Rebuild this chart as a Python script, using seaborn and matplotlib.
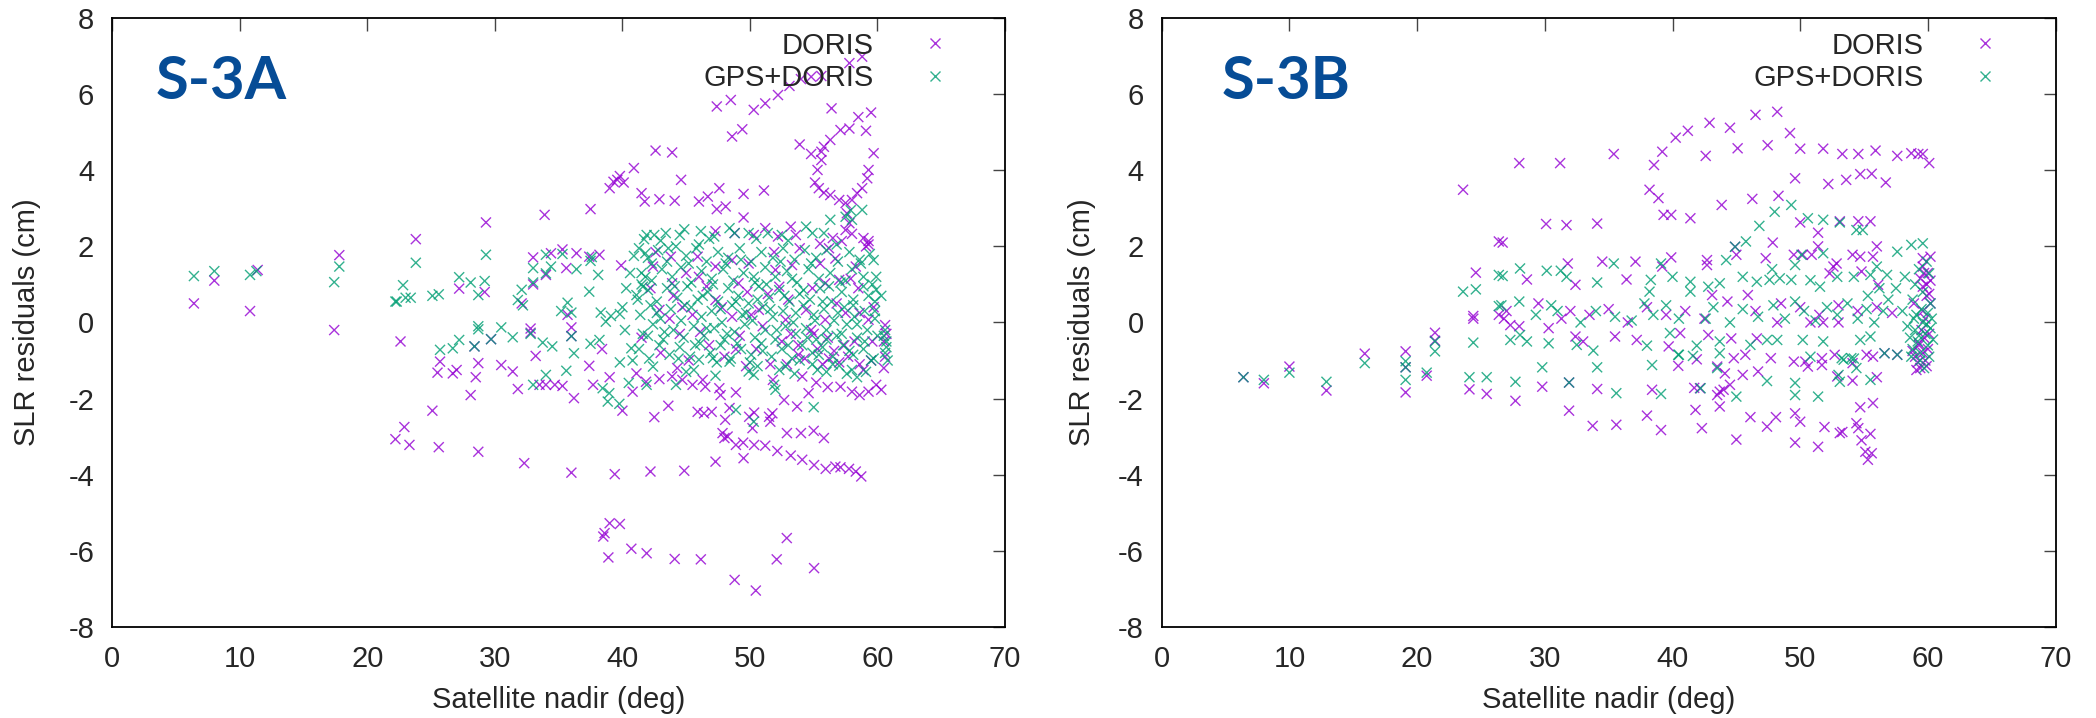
import matplotlib
matplotlib.use("Agg")
import matplotlib.pyplot as plt
from matplotlib.lines import Line2D
import pandas as pd
import seaborn as sns

# ---------------- S-3A : DORIS-only solution ----------------
s3a_doris = [
    (6.4, 0.5), (8.0, 1.1), (10.8, 0.3), (11.4, 1.38), (17.8, 1.77), (17.4, -0.2),
    (22.2, -3.07), (22.6, -0.5), (22.9, -2.75), (23.3, -3.22), (23.8, 2.19), (25.1, -2.32),
    (25.6, -3.28), (25.7, -1.03), (25.5, -1.32), (26.7, -1.34), (27.0, -1.25), (27.2, 0.89),
    (28.4, -0.63), (28.7, -1.07), (28.5, -1.44), (28.1, -1.91), (28.7, -3.4), (29.2, 0.8),
    (29.3, 2.63), (29.7, -0.44), (30.5, -1.12), (31.4, -1.29), (31.8, -1.75), (32.1, 0.5),
    (32.3, -3.7), (32.8, -0.16), (32.8, -0.27), (33.0, 1.0), (33.0, 1.71), (33.2, -0.88),
    (33.5, -1.64), (33.9, 2.83), (34.0, -1.64), (34.0, 1.25), (34.4, 1.82), (34.7, -1.64),
    (35.3, 1.92), (35.3, -1.67), (35.6, 1.43), (35.7, 0.2), (36.0, -0.13), (36.0, -0.36),
    (36.2, -1.99), (36.0, -3.95), (36.4, 1.82), (37.4, 1.73), (37.4, -1.14), (37.5, 2.98),
    (37.7, -1.64), (38.2, 1.78), (38.4, -0.7), (39.0, -1.44), (38.6, -5.54), (39.0, -5.28),
    (39.8, -5.3), (38.5, -5.63), (38.9, -6.18), (39.0, 3.53), (39.3, 3.7), (39.6, 3.75),
    (39.8, 3.85), (40.1, 3.68), (40.9, 4.06), (39.4, -3.99), (39.9, 1.5), (40.0, -2.32),
    (40.7, -5.95), (40.8, -1.82), (41.1, -1.34), (41.5, 3.4), (41.75, 3.18), (41.9, -6.07),
    (42.2, -3.92), (42.5, -2.49), (42.6, 4.52), (42.9, 3.24), (43.6, -2.19), (43.9, 4.47),
    (44.1, 3.2), (44.1, -6.22), (44.6, 3.75), (44.85, -3.9), (45.9, -2.35), (46.4, -2.39),
    (47.0, -2.35), (46.0, 3.18), (46.15, -6.23), (46.7, 3.31), (47.3, -3.66), (47.4, 5.68),
    (47.4, 2.98), (47.6, 3.53), (47.6, -1.73), (47.7, -1.91), (47.85, -2.91), (48.0, -3.04),
    (48.25, -3.0), (48.06, -2.56), (48.4, -2.25), (48.9, -1.84), (48.1, 3.05), (48.5, 5.85),
    (48.6, 4.89), (48.8, -6.77), (48.9, -3.22), (49.4, 5.08), (49.47, -3.16), (49.5, -3.57),
    (49.5, 3.38), (49.5, 2.76), (49.94, -2.48), (50.2, -2.78), (50.3, 5.59), (50.33, -2.37),
    (50.33, -3.22), (50.46, -7.05), (51.1, 3.47), (51.2, 5.76), (51.2, -3.24), (51.5, -2.48),
    (51.6, -2.61), (51.76, -2.39), (52.1, -6.23), (52.15, -3.38), (52.2, 5.98), (52.68, -2.04),
    (52.89, -5.67), (52.9, -2.91), (53.1, 6.22), (53.2, -3.5), (53.7, -2.21), (53.9, 4.68),
    (54.0, 6.4), (54.0, -2.91), (54.1, -3.61), (54.6, -1.86), (54.8, 6.46), (54.8, 4.43),
    (55.0, -2.85), (55.03, -3.75), (55.03, -6.46), (55.1, 3.68), (55.3, 4.01), (55.4, 3.53),
    (55.6, 6.48), (55.6, 4.49), (55.6, 4.27), (55.8, 4.62), (55.8, 3.41), (55.8, -3.04),
    (55.94, -3.85), (56.3, 4.8), (56.3, 3.35), (56.4, 5.63), (56.7, -3.79), (57.0, 3.22),
    (57.1, 5.06), (57.1, -3.81), (57.5, 3.14), (57.77, -3.85), (57.8, 5.1), (57.8, 6.82),
    (58.0, 3.22), (58.3, -3.92), (58.4, 3.4), (58.5, 5.4), (58.73, -4.05), (58.8, 3.53),
    (58.8, 6.99), (59.1, 5.04), (59.2, 3.79), (59.3, 4.01), (59.5, 5.52), (59.7, 4.45),
    (57.6, 2.87), (57.8, 2.61), (57.5, 2.43),
    (41.85, -1.56), (42.9, -1.49), (43.9, -1.42), (44.7, -1.51), (45.5, -1.64), (46.3, -1.51),
    (46.5, -1.69), (51.8, -1.51), (54.1, -1.42), (55.2, -1.58), (56.1, -1.7), (57.1, -1.69),
    (58.0, -1.82), (58.6, -1.91), (59.3, -1.82), (59.9, -1.64), (60.3, -1.77),
    (47.3, 2.4), (48.8, 2.35), (50.3, 2.3), (51.2, 2.48), (52.2, 2.26), (53.2, 2.52),
    (53.6, 2.3), (55.5, 2.07), (56.5, 2.22), (57.2, 2.14), (58.9, 2.22), (59.3, 2.14),
    (58.0, 2.33), (42.4, 1.47), (43.8, 1.73), (45.9, 1.73), (47.3, 1.47), (48.6, 1.64),
    (49.9, 1.55), (52.0, 1.38), (53.3, 1.51), (55.5, 1.55), (56.7, 1.68), (58.3, 1.47),
    (59.1, 2.0), (59.3, 2.05), (55.9, 1.03), (57.0, 1.12), (52.3, 0.94), (49.1, 1.03),
    (46.0, 1.2), (43.9, 1.03), (42.9, 0.33), (44.7, 0.4), (47.3, 0.59), (48.6, 0.15),
    (50.7, 0.33), (52.8, 0.07), (54.4, 0.33), (55.9, 0.07), (57.5, 0.25), (59.3, 0.07),
    (60.6, -0.07), (41.5, -0.4), (43.0, -0.8), (44.5, -0.3), (45.2, -1.0), (46.8, -0.6),
    (48.0, -0.9), (49.2, -0.35), (50.5, -0.7), (51.6, -1.1), (52.5, -0.5), (53.8, -0.85),
    (55.0, -0.3), (56.2, -0.95), (57.4, -0.6), (58.6, -1.1), (59.6, -0.5), (60.5, -0.5),
    (60.6, -0.9), (60.5, -1.2), (60.7, -0.3), (42.2, 0.9), (44.0, 0.7), (45.5, 0.2),
    (49.8, 0.8), (51.0, -0.1), (53.0, 0.6), (54.9, 0.9), (56.8, 0.5), (58.5, 0.9), (59.7, 0.4),
    (53.2, -0.3), (53.8, -0.6), (54.3, -0.95), (54.8, -0.2), (55.3, -0.7), (55.7, -1.1),
    (56.1, -0.4), (56.6, -0.75), (57.0, -1.05), (57.7, -0.9), (58.2, -0.5), (58.9, -1.25),
    (59.5, -1.0), (43.7, 0.1), (45.0, 1.3), (46.6, 0.95), (47.8, 0.4), (48.9, -0.7),
    (50.1, 0.2), (51.4, 0.75), (51.9, 1.85), (53.9, 1.95), (56.2, 1.95), (57.9, 1.15),
    (58.6, 0.25), (42.6, 1.85), (44.3, -1.2), (46.1, -0.25), (49.7, -1.15), (52.9, -1.1),
]

# ---------------- S-3A : GPS+DORIS solution ----------------
s3a_gps = [
    (6.4, 1.22), (8.0, 1.35), (10.8, 1.25), (11.3, 1.35), (17.8, 1.47), (17.4, 1.06),
    (22.2, 0.55), (22.8, 0.98), (22.3, 0.55), (23.0, 0.65), (23.4, 0.65), (23.8, 1.57),
    (25.1, 0.7), (25.6, 0.74), (25.7, -0.72), (26.7, -0.68), (27.2, -0.46), (27.2, 1.19),
    (28.1, 1.05), (28.4, -0.63), (28.7, 0.72), (28.7, -0.1), (28.7, -0.18), (29.2, 1.09),
    (29.3, 1.78), (29.7, -0.44), (30.5, -0.13), (31.4, -0.39), (31.8, 0.59), (32.1, 0.86),
    (32.2, 0.45), (32.8, -0.3), (33.0, 1.05), (33.0, 1.43), (33.0, -1.64), (33.75, -0.53),
    (34.0, 1.78), (34.0, 1.29), (34.0, -1.38), (34.4, 1.47), (34.5, -0.63), (35.2, 0.3),
    (35.3, 1.8), (35.6, -1.27), (35.7, 0.52), (36.0, 0.26), (36.0, -0.36), (36.2, -0.81),
    (36.4, 1.4), (37.4, 0.81), (37.5, 1.62), (37.6, 1.72), (37.5, -0.56), (38.1, 1.25),
    (38.2, -0.46), (38.3, 0.26), (38.45, -1.73), (38.7, 0.02), (38.85, -2.08), (38.97, -1.86),
    (39.1, 0.17), (39.76, -2.14), (39.8, -1.05), (39.8, 0.22), (40.0, 0.4), (40.5, -1.59),
    (40.7, -0.68), (41.1, 0.72), (41.6, 0.94), (41.8, 1.2), (41.8, 1.82),
    (41.7, 2.19), (42.5, 2.3), (43.4, 2.35), (44.85, 2.45), (46.15, 2.4), (47.2, 2.26),
    (48.4, 2.48), (48.8, 2.35), (49.9, 2.35), (51.4, 2.35), (52.5, 2.3), (54.4, 2.52),
    (54.9, 2.35), (56.3, 2.7), (57.5, 2.78), (58.0, 2.7), (58.8, 2.96), (57.9, 2.95),
    (59.7, 1.64), (59.9, 1.2), (59.9, 0.86),
    (41.3, 1.95), (42.0, 1.7), (42.8, 1.9), (43.5, 1.6), (44.2, 2.0), (45.0, 1.75),
    (45.8, 1.95), (46.6, 1.6), (47.5, 1.85), (48.3, 1.7), (49.2, 1.95), (50.1, 1.6),
    (50.9, 1.85), (51.8, 1.7), (52.6, 1.95), (53.5, 1.65), (54.3, 1.9), (55.2, 1.7),
    (56.0, 1.9), (56.9, 1.6), (57.8, 1.85), (58.6, 1.65), (59.4, 1.8),
    (41.5, 1.3), (42.3, 1.1), (43.1, 1.4), (43.9, 1.2), (44.6, 1.45), (45.4, 1.05),
    (46.2, 1.35), (47.0, 1.15), (47.9, 1.4), (48.7, 1.1), (49.5, 1.3), (50.4, 1.05),
    (51.2, 1.45), (52.0, 1.2), (52.9, 1.35), (53.7, 1.05), (54.6, 1.4), (55.4, 1.15),
    (56.3, 1.3), (57.1, 1.05), (58.0, 1.4), (58.9, 1.2), (59.6, 1.0),
    (41.2, 0.6), (42.0, 0.85), (42.7, 0.55), (43.5, 0.9), (44.3, 0.65), (45.1, 0.95),
    (45.9, 0.6), (46.7, 0.8), (47.5, 0.55), (48.3, 0.9), (49.1, 0.7), (49.9, 0.5),
    (50.7, 0.95), (51.5, 0.65), (52.3, 0.85), (53.1, 0.55), (53.9, 0.75), (54.7, 0.6),
    (55.5, 0.9), (56.4, 0.55), (57.2, 0.8), (58.1, 0.6), (58.9, 0.95), (59.8, 0.55), (60.3, 0.7),
    (41.4, 0.2), (42.2, 0.45), (43.0, 0.1), (43.8, 0.35), (44.6, 0.05), (45.4, 0.4),
    (46.2, 0.15), (47.0, 0.3), (47.8, 0.0), (48.6, 0.45), (49.4, 0.2), (50.2, 0.05),
    (51.0, 0.4), (51.8, 0.15), (52.6, 0.3), (53.4, 0.0), (54.2, 0.45), (55.0, 0.2),
    (55.8, 0.35), (56.6, 0.05), (57.4, 0.4), (58.2, 0.15), (59.0, 0.3), (59.8, 0.1),
    (41.6, -0.3), (42.4, -0.05), (43.2, -0.45), (44.0, -0.2), (44.8, -0.4), (45.6, -0.1),
    (46.4, -0.35), (47.2, -0.15), (48.0, -0.45), (48.8, -0.25), (49.6, -0.05), (50.4, -0.4),
    (51.2, -0.2), (52.0, -0.45), (52.8, -0.1), (53.6, -0.3), (54.4, -0.15), (55.2, -0.45),
    (56.0, -0.2), (56.8, -0.35), (57.6, -0.05), (58.4, -0.4), (59.2, -0.2), (60.0, -0.35),
    (41.3, -0.7), (42.1, -0.95), (42.9, -0.6), (43.7, -0.85), (44.5, -0.65), (45.3, -0.9),
    (46.1, -0.55), (46.9, -0.8), (47.7, -0.6), (48.5, -0.95), (49.3, -0.7), (50.1, -0.85),
    (50.9, -0.55), (51.7, -0.9), (52.5, -0.7), (53.3, -0.95), (54.1, -0.6), (54.9, -0.8),
    (55.7, -0.65), (56.5, -0.9), (57.3, -0.6), (58.1, -0.85), (58.9, -0.7), (59.7, -0.95),
    (42.4, -1.16), (41.9, -1.64), (44.2, -1.64), (46.0, -0.98), (47.1, -0.94), (48.4, -1.03),
    (49.9, -1.29), (50.3, -1.38), (52.8, -1.16), (51.9, -1.64), (52.0, -1.77), (54.9, -1.1),
    (57.0, -1.14), (58.0, -1.25), (58.4, -1.44), (48.9, -2.3), (50.3, -2.61), (55.0, -2.23),
    (45.0, -1.3), (53.5, -1.35), (56.0, -1.3),
    (60.6, -0.2), (60.7, -0.5), (60.6, -0.8), (60.8, -1.0), (60.5, -0.35), (60.7, -0.65),
    (42.3, 1.55), (42.7, 0.25), (43.3, -0.25), (43.6, 1.95), (44.1, 0.95), (44.4, -0.95),
    (44.9, 0.45), (45.2, 1.55), (45.7, -0.6), (46.0, 2.05), (46.3, 0.7), (46.6, -0.15),
    (47.1, 1.0), (47.4, -1.05), (47.7, 0.35), (48.1, 1.55), (48.2, -0.3), (48.9, 0.55),
    (49.0, -0.55), (49.3, 1.65), (49.7, 0.25), (50.0, -1.05), (50.3, 1.2), (50.6, 0.6),
    (51.0, -0.75), (51.3, 1.0), (51.6, 0.35), (52.1, -0.2), (52.4, 1.6), (52.7, 0.7),
    (53.0, -0.6), (53.3, 1.15), (53.6, 0.25), (53.9, -1.0), (54.2, 0.85), (54.5, -0.4),
    (54.8, 1.55), (55.1, 0.05), (55.4, -0.85), (55.7, 0.55), (56.0, -0.45), (56.2, 0.95),
    (56.5, -1.1), (56.9, 0.25), (57.2, -0.3), (57.5, 1.1), (57.8, -0.75), (58.1, 0.45),
    (58.4, -0.05), (58.7, 1.55), (59.0, -0.5), (59.3, 0.7), (59.5, -1.0), (59.8, 0.3),
    (42.0, -0.35), (41.5, 1.0), (41.9, 2.3), (43.0, 2.15), (44.5, 2.3), (46.8, 2.2),
    (50.5, 2.2), (53.0, 2.15), (55.8, 2.35), (56.8, 2.05), (45.6, -1.25), (47.3, -1.4),
    (50.6, -1.15), (52.3, -1.25), (55.3, -1.25), (57.6, -1.35), (59.1, -1.3), (40.6, 1.3),
    (40.3, 0.9), (40.9, 1.75), (40.2, -0.2), (40.8, -1.0),
]

# ---------------- S-3B : DORIS-only solution ----------------
s3b_doris = [
    (6.4, -1.44), (8.0, -1.6), (10.0, -1.16), (12.9, -1.79), (15.9, -0.82), (19.1, -0.76),
    (19.1, -1.18), (19.1, -1.84), (20.75, -1.4), (21.4, -0.27), (21.4, -0.48), (24.1, -1.76),
    (25.45, -1.88), (24.4, 0.1), (23.6, 3.49), (24.6, 1.31), (24.4, 0.17), (26.4, 2.13),
    (26.4, 0.2), (28.0, 4.19), (31.2, 4.19), (35.4, 4.43), (38.55, 4.14), (39.2, 4.49),
    (40.25, 4.86), (41.2, 5.04), (42.9, 5.25), (44.5, 5.12), (46.5, 5.46), (48.2, 5.54),
    (49.2, 4.98), (42.6, 4.38), (45.1, 4.58), (47.45, 4.66), (50.0, 4.57), (51.8, 4.57),
    (53.3, 4.43), (54.55, 4.43), (55.9, 4.52), (57.6, 4.38), (58.7, 4.45), (59.6, 4.43),
    (60.1, 4.19), (59.25, 4.43), (49.6, 3.79), (52.2, 3.64), (53.6, 3.75), (54.7, 3.9),
    (55.6, 3.91), (56.7, 3.68), (38.2, 3.49), (38.9, 3.27), (39.3, 2.83), (39.9, 2.83),
    (41.4, 2.74), (43.85, 3.09), (46.25, 3.25), (48.3, 3.33), (30.1, 2.59), (31.7, 2.56),
    (34.1, 2.6), (26.7, 2.1), (50.0, 2.63), (51.4, 2.36), (53.1, 2.66), (54.55, 2.66),
    (55.5, 2.66), (28.6, 1.13), (31.8, 1.55), (32.4, 0.99), (34.5, 1.6), (37.1, 1.6),
    (36.4, 1.13), (39.9, 1.71), (39.2, 1.47), (42.7, 1.64), (42.7, 1.51), (43.1, 0.72),
    (45.0, 1.78), (44.9, 1.99), (47.85, 2.1), (47.3, 1.69), (45.9, 0.72), (49.5, 1.78),
    (50.2, 1.78), (50.9, 1.78), (51.4, 2.0), (52.3, 1.29), (52.6, 1.47), (52.85, 1.55),
    (54.1, 1.78), (54.7, 1.73), (55.7, 1.73), (56.0, 2.0), (54.8, 1.34), (56.1, 0.99),
    (59.6, 1.69), (60.2, 1.73), (59.6, 1.47), (59.4, 1.16), (59.6, 0.94), (58.9, 0.5),
    (60.0, 1.3), (59.9, 1.0), (60.1, 0.75),
    (27.0, 0.3), (26.8, 0.1), (28.0, -0.1), (29.5, 0.5), (31.3, 0.1), (32.0, 0.3),
    (33.5, 0.2), (35.0, 0.35), (36.5, 0.0), (38.0, 0.4), (39.5, 0.2), (41.0, 0.3),
    (42.5, 0.1), (44.3, 0.55), (46.5, 0.3), (48.5, 0.5), (50.0, 0.4), (51.5, 0.2),
    (53.0, 0.45), (54.5, 0.3), (56.0, 0.4), (57.2, 0.25),
    (27.3, -0.07), (30.3, -0.15), (32.4, -0.37), (33.0, -0.5), (35.5, -0.37), (37.2, -0.46),
    (39.7, -0.63), (40.6, -0.28), (42.8, -0.33), (44.6, -0.42), (46.6, -0.42), (48.2, 0.0),
    (50.8, 0.0), (51.8, 0.0), (53.0, 0.0), (27.7, -2.06), (29.8, -1.69), (31.9, -1.58),
    (31.9, -2.32), (34.1, -1.75), (33.75, -2.72), (35.6, -2.69), (38.4, -1.77), (38.0, -2.45),
    (39.1, -2.83), (40.45, -1.14), (41.7, -1.72), (42.15, -1.73), (41.8, -2.3), (42.3, -2.78),
    (41.9, -0.97), (43.5, -1.16), (44.1, -1.34), (43.5, -1.91), (43.7, -1.82), (44.0, -1.77),
    (43.7, -2.21), (44.5, -1.64), (45.0, -3.08), (44.8, -0.94), (45.7, -0.85), (45.5, -1.38),
    (46.7, -1.29), (47.7, -0.94), (46.1, -2.49), (47.4, -2.74), (48.1, -2.49), (49.5, -1.03),
    (50.4, -1.03), (50.6, -1.16), (51.7, -0.94), (51.7, -1.12), (52.7, -0.85), (49.6, -2.39),
    (50.0, -2.61), (49.6, -3.16), (51.4, -3.27), (51.9, -2.75), (52.9, -1.42), (54.1, -1.53),
    (54.1, -1.07), (55.7, -0.9), (55.2, -0.85), (56.0, -1.44), (54.7, -2.23), (55.7, -2.12),
    (54.4, -2.65), (54.55, -2.78), (53.1, -2.91), (53.3, -2.88), (55.5, -2.93), (54.8, -3.1),
    (55.1, -3.4), (55.6, -3.44), (55.3, -3.61), (56.6, -0.81), (57.6, -0.85),
    (58.8, -0.75), (59.0, -0.9), (59.2, -1.05), (59.4, -1.2), (59.6, -0.8), (59.8, -1.0),
    (59.1, -1.25), (59.9, -1.15), (59.3, -0.6), (59.7, -0.4), (59.5, -0.2), (59.8, 0.1),
    (59.6, 0.3), (59.3, -0.55), (60.1, -0.3), (60.2, 0.5), (59.9, 0.7), (60.0, -0.7),
    (59.7, 1.3), (60.2, 1.1),
]

# ---------------- S-3B : GPS+DORIS solution ----------------
s3b_gps = [
    (6.4, -1.44), (8.0, -1.51), (10.0, -1.32), (12.9, -1.56), (15.9, -1.07), (19.1, -1.02),
    (19.1, -1.18), (19.1, -1.51), (20.75, -1.32), (21.4, -0.76), (21.4, -0.5), (24.1, -1.44),
    (24.4, -0.53), (25.45, -1.44), (23.6, 0.81), (24.6, 0.87), (26.4, 1.25), (26.4, 0.43),
    (26.7, 1.22), (28.06, 1.42), (30.15, 1.36), (31.25, 1.36), (31.7, 1.2), (34.1, 1.05),
    (35.4, 1.55), (39.1, 1.55), (38.3, 1.12), (40.0, 1.2), (41.4, 1.07), (41.4, 0.81),
    (38.2, 0.81), (42.8, 0.94), (43.7, 1.03), (44.2, 1.64), (45.5, 1.2), (44.9, 1.99),
    (45.75, 2.13), (47.8, 1.4), (46.6, 1.07), (47.6, 1.12), (48.4, 1.16), (49.6, 1.51),
    (49.3, 1.12), (50.8, 1.11), (51.55, 0.94), (50.1, 1.78), (51.8, 1.82), (52.9, 1.2),
    (54.2, 1.2), (55.5, 1.25), (56.0, 1.47), (56.8, 1.25), (57.6, 1.86), (58.7, 2.04),
    (59.6, 2.08), (60.1, 1.29), (48.0, 2.91), (49.3, 3.09), (46.8, 2.54), (50.6, 2.74),
    (51.8, 2.7), (53.1, 2.63), (54.4, 2.43), (54.9, 2.43),
    (26.6, 0.45), (28.0, 0.55), (29.3, 0.2), (30.5, 0.45), (31.0, 0.3), (32.8, 0.0),
    (34.0, 0.3), (35.5, 0.15), (36.8, 0.05), (37.8, 0.5), (38.5, 0.2), (39.5, 0.45),
    (40.5, 0.1), (42.6, 0.1), (43.2, 0.4), (44.5, 0.0), (45.5, 0.35), (46.7, 0.15),
    (47.9, 0.45), (48.8, 0.1), (49.6, 0.55), (50.3, 0.3), (51.2, 0.05), (52.1, 0.4),
    (52.9, 0.2), (53.7, 0.5), (54.5, 0.1), (55.2, 0.35), (55.8, 0.0), (56.5, 0.3),
    (27.3, -0.46), (28.06, -0.33), (28.6, -0.5), (30.3, -0.55), (32.5, -0.59), (33.8, -0.74),
    (38.0, -0.61), (39.8, -0.28), (40.5, -0.85), (41.6, -0.88), (41.9, -0.61), (43.7, -0.5),
    (43.7, -0.81), (46.1, -0.59), (47.4, -0.46), (48.2, -0.46), (50.2, -0.46), (50.8, -0.9),
    (51.8, -0.5), (53.4, -0.98), (54.2, -0.95), (54.7, -0.46), (55.5, -0.37), (56.6, -0.81),
    (57.6, -0.85), (29.8, -1.18), (34.1, -1.18), (38.4, -1.12), (27.7, -1.56), (31.9, -1.58),
    (35.6, -1.86), (39.1, -1.88), (40.45, -0.85), (42.2, -1.73), (43.5, -1.2), (45.0, -1.95),
    (47.4, -1.54), (49.6, -1.59), (49.6, -1.91), (51.4, -1.95), (53.25, -0.94), (54.0, -0.94),
    (54.4, -1.2), (53.0, -1.38), (53.1, -1.56), (55.5, -1.51),
    (58.4, -0.1), (58.6, -0.4), (58.8, -0.7), (59.0, -0.2), (59.2, -0.5), (59.4, -0.8),
    (59.6, 0.0), (59.8, -0.3), (60.0, -0.6), (60.2, -0.15), (60.4, -0.45), (59.1, 0.2),
    (59.5, 0.35), (60.0, 0.25), (59.3, -0.35), (59.9, -0.05), (58.9, 0.1), (60.3, 0.1),
    (59.0, 1.0), (59.3, 1.4), (59.6, 0.8), (59.9, 1.6), (58.8, 0.6), (60.2, 0.5),
    (59.4, -1.0), (58.7, -0.9), (60.1, -0.9), (59.7, -1.2), (55.3, 0.7), (56.2, 0.9),
    (56.9, 0.6), (57.5, 0.9), (58.0, 0.3), (58.2, 1.2),
]

series_names = ["DORIS", "GPS+DORIS"]
series_colors = {"DORIS": "#9400D3", "GPS+DORIS": "#009E73"}
panel_titles = ["S-3A", "S-3B"]
x_ticks = [0, 10, 20, 30, 40, 50, 60, 70]
y_ticks = [-8, -6, -4, -2, 0, 2, 4, 6, 8]


def to_frame(doris, gps):
    rows = [(x, y, "DORIS") for x, y in doris] + [(x, y, "GPS+DORIS") for x, y in gps]
    return pd.DataFrame(rows, columns=["nadir", "residual", "solution"])


sns.set_style("white")
plt.rcParams["font.family"] = ["Liberation Sans", "DejaVu Sans"]
plt.rcParams["axes.unicode_minus"] = False

fig = plt.figure(figsize=(20.96, 7.18), dpi=100)
ax_a = fig.add_axes([0.05358, 0.1272, 0.4259, 0.8474])
ax_b = fig.add_axes([0.55425, 0.1272, 0.42648, 0.8474])

panels = [
    (ax_a, to_frame(s3a_doris, s3a_gps), panel_titles[0], 0.048, -0.080),
    (ax_b, to_frame(s3b_doris, s3b_gps), panel_titles[1], 0.067, -0.073),
]

FS = 21
for ax, df, title, tx, ylab_x in panels:
    sns.scatterplot(
        data=df, x="nadir", y="residual", hue="solution", hue_order=series_names,
        palette=series_colors, marker="x", s=52, linewidth=1.0, alpha=0.8,
        legend=False, ax=ax,
    )
    ax.set_xlim(0, 70)
    ax.set_ylim(-8, 8)
    ax.set_xticks(x_ticks)
    ax.set_yticks(y_ticks)
    ax.tick_params(direction="in", length=9, width=1.0, top=True, right=True,
                   labelsize=FS, pad=13, color="#444444")
    for sp in ax.spines.values():
        sp.set_linewidth(1.3)
        sp.set_color("black")
    ax.set_xlabel("Satellite nadir (deg)", fontsize=FS)
    ax.set_ylabel("SLR residuals (cm)", fontsize=FS)
    ax.xaxis.set_label_coords(0.5, -0.098)
    ax.yaxis.set_label_coords(ylab_x, 0.5)

    ax.text(tx, 0.895, title, transform=ax.transAxes, fontsize=43,
            fontweight="bold", family="Lato", color="#064C96",
            ha="left", va="center")

    handles = [
        Line2D([], [], linestyle="none", marker="x", markersize=7,
               markeredgewidth=1.0, color=series_colors[n], alpha=0.8)
        for n in series_names
    ]
    ax.legend(handles, series_names, loc="upper right", bbox_to_anchor=(0.957, 0.978),
              frameon=False, markerfirst=False, fontsize=FS, borderaxespad=0,
              borderpad=0, handlelength=2.2, handletextpad=1.0, labelspacing=0.15)

fig.savefig("out.png", dpi=100)
